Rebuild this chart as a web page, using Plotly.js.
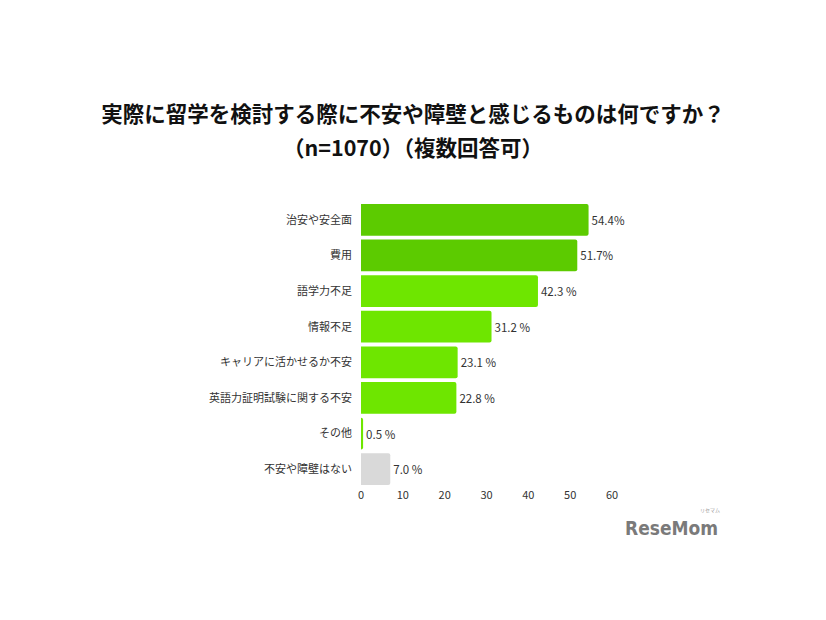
<!DOCTYPE html>
<html>
<head>
<meta charset="utf-8">
<script src="https://cdn.plot.ly/plotly-3.0.1.min.js"></script>
<style>html,body{margin:0;padding:0;background:#fff;}#chart{width:826px;height:620px;}</style>
</head>
<body>
<div id="chart"></div>
<script>
const categories = ["治安や安全面", "費用", "語学力不足", "情報不足", "キャリアに活かせるか不安", "英語力証明試験に関する不安", "その他", "不安や障壁はない"];
const values = [54.4, 51.7, 42.3, 31.2, 23.1, 22.8, 0.5, 7.0];
const valueLabels = ["54.4%", "51.7%", "42.3 %", "31.2 %", "23.1 %", "22.8 %", "0.5 %", "7.0 %"];
const barColors = ["#5ccb00", "#5ccb00", "#6ee600", "#6ee600", "#6ee600", "#6ee600", "#6ee600", "#d9d9d9"];
const xTicks = [0, 10, 20, 30, 40, 50, 60];
const titleLine1 = "実際に留学を検討する際に不安や障壁と感じるものは何ですか？";
const titleLine2 = "（n=1070）（複数回答可）";

const font = "'Noto Sans CJK JP', 'Noto Sans', sans-serif";

const trace = {
  type: "bar",
  orientation: "h",
  x: values,
  y: categories,
  text: valueLabels,
  textposition: "outside",
  cliponaxis: false,
  textfont: {family: font, size: 11.5, color: "#333"},
  marker: {color: barColors, cornerradius: 2},
  hoverinfo: "none"
};

const layout = {
  width: 826, height: 620,
  paper_bgcolor: "#fff", plot_bgcolor: "#fff",
  margin: {l: 361, r: 214, t: 202, b: 133},
  bargap: 0.11,
  showlegend: false,
  title: {
    text: "<b>" + titleLine1 + "</b>",
    font: {family: font, size: 21.5, color: "#111"},
    x: 0.5, xref: "container", xanchor: "center",
    y: 1 - 114 / 620, yref: "container", yanchor: "middle"
  },
  xaxis: {
    range: [0, 60], tickvals: xTicks, ticktext: xTicks.map(String),
    showgrid: false, zeroline: false, showline: false, ticks: "",
    tickfont: {family: font, size: 11, color: "#333"}, fixedrange: true
  },
  yaxis: {
    autorange: "reversed", showgrid: false, zeroline: false, showline: false, ticks: "",
    ticklabelstandoff: 8,
    tickfont: {family: font, size: 11, color: "#333"}, fixedrange: true
  },
  annotations: [
    {text: "<b>" + titleLine2 + "</b>", xref: "paper", yref: "paper",
     x: (413 - 361) / 251, y: (620 - 133 - 146) / 285, xanchor: "center", yanchor: "middle",
     showarrow: false, font: {family: font, size: 21.5, color: "#111"}},
    {text: "<b>ReseMom</b>", xref: "paper", yref: "paper", x: (671 - 361) / 251, y: -(528 - 487) / 285, xanchor: "center", yanchor: "middle",
     showarrow: false, font: {family: "'DejaVu Sans Condensed', 'DejaVu Sans', sans-serif", size: 19, color: "#7a7a7a"}},
    {text: "リセマム", xref: "paper", yref: "paper", x: (710 - 361) / 251, y: -(510 - 487) / 285, xanchor: "center", yanchor: "middle",
     showarrow: false, font: {family: font, size: 5, color: "#999"}}
  ]
};

Plotly.newPlot("chart", [trace], layout, {displayModeBar: false, staticPlot: true});
</script>
</body>
</html>
